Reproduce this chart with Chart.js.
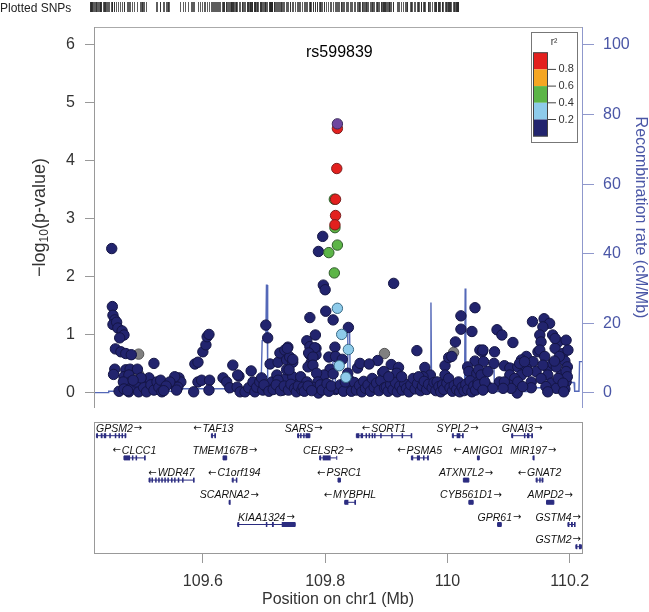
<!DOCTYPE html>
<html>
<head>
<meta charset="utf-8">
<script src="https://cdn.jsdelivr.net/npm/chart.js@4.4.1/dist/chart.umd.min.js"></script>
<style>
  html, body { margin: 0; padding: 0; background: #fff; }
  canvas { display: block; }
</style>
</head>
<body>
<canvas id="locusChart" width="649" height="612"></canvas>
<script>
// Regional association plot (LocusZoom style) with Chart.js

const indexSnp = 'rs599839';

// [position (Mb), -log10(p)] per r2 class
const snpIndex = [[109.820, 4.64]];
const snpRed = [[109.820, 4.56], [109.819, 3.87], [109.817, 3.34], [109.817, 3.06], [109.816, 2.90]];
const snpGreen = [[109.815, 3.34], [109.816, 2.85], [109.820, 2.55], [109.806, 2.42], [109.815, 2.07]];
const snpLightBlue = [[109.820, 1.46], [109.827, 1.01], [109.838, 0.75], [109.823, 0.47], [109.834, 0.27]];
const snpGray = [[109.495, 0.67], [109.495, 0.32], [109.897, 0.68], [110.010, 0.70]];
const snpNavy = [
  [109.451, 2.49], [109.452, 1.49], [109.453, 1.34], [109.456, 1.26], [109.453, 1.18], [109.459, 1.22],
  [109.461, 1.12], [109.468, 1.07], [109.471, 1.00], [109.464, 0.95], [109.457, 0.76], [109.466, 0.71],
  [109.474, 0.68], [109.483, 0.66], [109.520, 0.51], [109.456, 0.41], [109.454, 0.32], [109.474, 0.40],
  [109.481, 0.41], [109.493, 0.41], [109.471, 0.28], [109.479, 0.31], [109.482, 0.19], [109.470, 0.19],
  [109.463, 0.03], [109.471, 0.07], [109.479, 0.02], [109.487, 0.10], [109.495, 0.02], [109.500, 0.19],
  [109.503, 0.10], [109.508, 0.02], [109.512, 0.26], [109.515, 0.14], [109.520, 0.05], [109.525, 0.19],
  [109.528, 0.10], [109.533, 0.02], [109.531, 0.22], [109.490, 0.19], [109.499, 0.26], [109.486, 0.22],
  [109.556, 0.19], [109.561, 0.26], [109.564, 0.19], [109.553, 0.14], [109.554, 0.28], [109.559, 0.10],
  [109.557, 0.05], [109.546, 0.19], [109.540, 0.12], [109.536, 0.04], [109.477, 0.04],
  [109.587, 0.50], [109.592, 0.53], [109.592, 0.19], [109.598, 0.22], [109.585, 0.02], [109.600, 0.71],
  [109.605, 0.83], [109.607, 0.97], [109.610, 1.01], [109.611, 0.22], [109.610, 0.05], [109.633, 0.26],
  [109.639, 0.19], [109.644, 0.09], [109.649, 0.48], [109.656, 0.10], [109.659, 0.29], [109.661, 0.02],
  [109.669, 0.02], [109.675, 0.09], [109.679, 0.38], [109.682, 0.19], [109.685, 0.02], [109.688, 0.10],
  [109.693, 0.19], [109.696, 0.26], [109.698, 0.05], [109.703, 1.17], [109.706, 0.95], [109.705, 0.09],
  [109.710, 0.50], [109.713, 0.19], [109.718, 0.10], [109.721, 0.31], [109.723, 0.53], [109.726, 0.69],
  [109.729, 0.19], [109.731, 0.05], [109.734, 0.74], [109.737, 0.57], [109.737, 0.26], [109.657, 0.31],
  [109.739, 0.79], [109.742, 0.62], [109.747, 0.53], [109.737, 0.40], [109.723, 0.22], [109.747, 0.28],
  [109.759, 0.19], [109.700, 0.14], [109.708, 0.03], [109.715, 0.06], [109.720, 0.14], [109.727, 0.04],
  [109.733, 0.12], [109.740, 0.05], [109.744, 0.15], [109.750, 0.08], [109.753, 0.02], [109.756, 0.12],
  [109.762, 0.05],
  [109.796, 2.70], [109.789, 2.44], [109.797, 1.86], [109.800, 1.78], [109.801, 1.41], [109.775, 1.30],
  [109.813, 1.26], [109.838, 1.13], [109.784, 1.00], [109.770, 0.90], [109.775, 0.80], [109.785, 0.77],
  [109.738, 0.77], [109.816, 0.79], [109.775, 0.66], [109.785, 0.66], [109.806, 0.62], [109.817, 0.63],
  [109.828, 0.58], [109.747, 0.58], [109.777, 0.52], [109.808, 0.41], [109.853, 0.43], [109.857, 0.51],
  [109.886, 0.56], [109.798, 0.31], [109.760, 0.28], [109.741, 0.40], [109.817, 0.06], [109.789, 0.00],
  [109.783, 0.78], [109.773, 0.69], [109.780, 0.62], [109.772, 0.45], [109.780, 0.48], [109.786, 0.34],
  [109.770, 0.19], [109.788, 0.19], [109.764, 0.10], [109.780, 0.10], [109.813, 0.33], [109.819, 0.08],
  [109.837, 0.34], [109.840, 0.22], [109.845, 0.11], [109.872, 0.50], [109.894, 0.35],
  [109.766, 0.03], [109.772, 0.12], [109.778, 0.04], [109.792, 0.14], [109.795, 0.05], [109.803, 0.16],
  [109.806, 0.03], [109.810, 0.12], [109.825, 0.14], [109.830, 0.03], [109.833, 0.19], [109.843, 0.03],
  [109.848, 0.18], [109.851, 0.05], [109.856, 0.13], [109.860, 0.02], [109.863, 0.20], [109.866, 0.08],
  [109.870, 0.14], [109.874, 0.03], [109.877, 0.25], [109.880, 0.10], [109.884, 0.17], [109.888, 0.04],
  [109.891, 0.21], [109.897, 0.09],
  [109.912, 1.89], [109.950, 0.73], [109.908, 0.49], [109.920, 0.44], [109.917, 0.34], [109.896, 0.37],
  [109.963, 0.44], [109.972, 0.31], [109.996, 0.47], [110.002, 0.61], [110.007, 0.63], [110.013, 0.88],
  [110.022, 1.33], [110.022, 1.10], [110.040, 1.06], [110.045, 1.47], [110.045, 0.55], [110.033, 0.45],
  [110.035, 0.37], [110.053, 0.74], [109.996, 0.31], [110.057, 0.71], [110.059, 0.54], [110.048, 0.34],
  [109.960, 0.28],
  [109.900, 0.10], [109.903, 0.03], [109.907, 0.15], [109.911, 0.06], [109.915, 0.18], [109.918, 0.02],
  [109.922, 0.12], [109.926, 0.05], [109.930, 0.16], [109.933, 0.08], [109.937, 0.02], [109.940, 0.14],
  [109.944, 0.25], [109.947, 0.07], [109.951, 0.16], [109.953, 0.28], [109.956, 0.04], [109.959, 0.12],
  [109.962, 0.20], [109.966, 0.06], [109.969, 0.15], [109.975, 0.09], [109.978, 0.18], [109.981, 0.04],
  [109.983, 0.19], [109.986, 0.11], [109.989, 0.02], [109.992, 0.14], [109.994, 0.06], [109.999, 0.17],
  [110.002, 0.25], [110.004, 0.09], [110.008, 0.03], [110.011, 0.13], [110.015, 0.06], [110.018, 0.19],
  [110.020, 0.02], [110.024, 0.10], [110.027, 0.04], [110.030, 0.15], [110.033, 0.06], [110.037, 0.21],
  [110.040, 0.02], [110.043, 0.12], [110.046, 0.05], [110.050, 0.18], [110.051, 0.40], [109.904, 0.28],
  [109.925, 0.28],
  [110.139, 1.23], [110.158, 1.28], [110.167, 1.20], [110.156, 1.14], [110.151, 1.00], [110.172, 1.00],
  [110.081, 1.09], [110.089, 1.00], [110.107, 0.87], [110.181, 0.88], [110.194, 0.91], [110.058, 0.74],
  [110.077, 0.71], [110.176, 0.77], [110.148, 0.71], [110.129, 0.63], [110.121, 0.57], [110.140, 0.54],
  [110.189, 0.68], [110.197, 0.74], [110.192, 0.55], [110.076, 0.51], [110.093, 0.47], [110.102, 0.43],
  [110.115, 0.45], [110.129, 0.43], [110.164, 0.43], [110.172, 0.51], [110.196, 0.45], [110.102, 0.31],
  [110.121, 0.31], [110.145, 0.37], [110.164, 0.31], [110.186, 0.31], [110.055, 0.31], [110.066, 0.37],
  [110.085, 0.19], [110.110, 0.25], [110.137, 0.19], [110.153, 0.25], [110.170, 0.17], [110.194, 0.19],
  [110.050, 0.14], [110.066, 0.11], [110.100, 0.14], [110.114, 0.00], [110.137, 0.09], [110.161, 0.11],
  [110.178, 0.08], [110.192, 0.07], [110.164, 0.02],
  [110.183, 0.63], [110.178, 0.45], [110.194, 0.37], [110.196, 0.28], [110.181, 0.25], [110.189, 0.17],
  [110.190, 0.02], [110.176, 0.94], [110.175, 0.55], [110.153, 0.88], [110.151, 0.74], [110.159, 0.63],
  [110.156, 0.48], [110.118, 0.51], [110.126, 0.54], [110.131, 0.37], [110.115, 0.19], [110.123, 0.11],
  [110.104, 0.08], [110.093, 0.19], [110.091, 0.08], [110.074, 0.08], [110.061, 0.19], [110.058, 0.05]
];

// recombination rate (cM/Mb)
const recombPos = [109.422, 109.445, 109.446, 109.555, 109.556, 109.640, 109.641, 109.695, 109.697, 109.703,
  109.704, 109.705, 109.706, 109.708, 109.800, 109.812, 109.813, 109.816, 109.817, 109.836, 109.837, 109.840,
  109.841, 109.850, 109.851, 109.972, 109.973, 109.974, 110.028, 110.029, 110.030, 110.045, 110.046, 110.066,
  110.067, 110.076, 110.077, 110.135, 110.136, 110.160, 110.161, 110.195, 110.196, 110.207, 110.208, 110.215,
  110.216, 110.220];
const recombRate = [0.1, 0.1, 0.5, 0.5, 1.2, 1.2, 0.7, 0.7, 15, 15.5,
  31, 31, 4.5, 1.0, 1.0, 0.6, 12, 12, 1.0, 1.0, 18, 18,
  3, 3, 0.8, 0.8, 26, 0.8, 0.6, 30, 3, 3, 0.8, 0.8,
  7.5, 7.5, 0.4, 0.4, 1.5, 1.5, 0.4, 0.4, 3, 3, 0.5, 0.5,
  9, 9];

const xTicks = [109.6, 109.8, 110.0, 110.2];
const yTicks = [0, 1, 2, 3, 4, 5, 6];
const y2Ticks = [0, 20, 40, 60, 80, 100];

// r2 legend
const r2Labels = ['0.8', '0.6', '0.4', '0.2'];
const r2Colors = ['#e3201e', '#f5a623', '#5cb547', '#8ecbea', '#22246e'];

// genes
const geneNames = ['GPSM2', 'TAF13', 'SARS', 'SORT1', 'SYPL2', 'GNAI3',
  'CLCC1', 'TMEM167B', 'CELSR2', 'PSMA5', 'AMIGO1', 'MIR197',
  'WDR47', 'C1orf194', 'PSRC1', 'ATXN7L2', 'GNAT2',
  'SCARNA2', 'MYBPHL', 'CYB561D1', 'AMPD2',
  'KIAA1324', 'GPR61', 'GSTM4', 'GSTM2'];
const geneStart = [109.426, 109.614, 109.755, 109.851, 110.008, 110.105,
  109.471, 109.633, 109.791, 109.941, 110.049, 110.140,
  109.512, 109.648, 109.821, 110.026, 110.145,
  109.643, 109.832, 110.035, 110.162,
  109.657, 110.082, 110.197, 110.210];
const geneEnd = [109.474, 109.620, 109.775, 109.941, 110.025, 110.139,
  109.505, 109.639, 109.819, 109.968, 110.052, 110.1405,
  109.585, 109.655, 109.825, 110.035, 110.156,
  109.6435, 109.849, 110.042, 110.174,
  109.751, 110.088, 110.208, 110.219];
const geneStrand = [1, -1, 1, -1, 1, 1,
  -1, 1, 1, -1, -1, 1,
  -1, -1, -1, 1, -1,
  1, -1, 1, 1,
  1, 1, 1, 1];
const geneRow = [0, 0, 0, 0, 0, 0,
  1, 1, 1, 1, 1, 1,
  2, 2, 2, 2, 2,
  3, 3, 3, 3,
  4, 4, 4, 5];
const geneExons = [
  [[109.426, 109.428], [109.433, 109.436], [109.438, 109.442], [109.447, 109.449], [109.456, 109.458], [109.462, 109.464], [109.467, 109.469], [109.472, 109.474]],
  [[109.614, 109.615], [109.619, 109.620]],
  [[109.755, 109.757], [109.759, 109.761], [109.764, 109.766], [109.768, 109.775]],
  [[109.851, 109.856], [109.858, 109.862], [109.866, 109.867], [109.871, 109.873], [109.876, 109.877], [109.880, 109.881], [109.890, 109.891], [109.908, 109.909], [109.925, 109.926], [109.940, 109.941]],
  [[110.008, 110.009], [110.015, 110.021], [110.024, 110.025]],
  [[110.105, 110.106], [110.125, 110.127], [110.130, 110.134], [110.137, 110.139]],
  [[109.471, 109.481], [109.484, 109.486], [109.490, 109.491], [109.504, 109.505]],
  [[109.633, 109.639]],
  [[109.791, 109.793], [109.796, 109.809]],
  [[109.941, 109.944], [109.950, 109.955], [109.960, 109.961], [109.967, 109.968]],
  [[110.049, 110.052]],
  [[110.140, 110.1405]],
  [[109.512, 109.513], [109.516, 109.517], [109.522, 109.524], [109.527, 109.528], [109.532, 109.533], [109.537, 109.538], [109.542, 109.544], [109.548, 109.549], [109.553, 109.555], [109.559, 109.560], [109.566, 109.567], [109.584, 109.585]],
  [[109.648, 109.649], [109.654, 109.655]],
  [[109.821, 109.825]],
  [[110.026, 110.035]],
  [[110.145, 110.147], [110.150, 110.152], [110.154, 110.156]],
  [[109.643, 109.6435]],
  [[109.832, 109.838], [109.848, 109.849]],
  [[110.035, 110.042]],
  [[110.162, 110.174]],
  [[109.657, 109.658], [109.703, 109.705], [109.713, 109.716], [109.729, 109.751]],
  [[110.082, 110.083], [110.084, 110.088]],
  [[110.197, 110.199], [110.202, 110.205], [110.207, 110.208]],
  [[110.210, 110.212], [110.215, 110.219]]
];

const FONT = "'Liberation Sans', Arial, Helvetica, sans-serif";
const toXY = arr => arr.map(p => ({ x: p[0], y: p[1] }));

function snpSet(label, arr, color, order, edge) {
  return {
    label: label, data: toXY(arr), yAxisID: 'y', order: order,
    backgroundColor: color, borderColor: edge, borderWidth: 1,
    pointRadius: 5.2, pointHoverRadius: 5.2
  };
}

const decorPlugin = {
  id: 'decor',
  afterDraw(chart) {
    const ctx = chart.ctx;
    const { left, right, top } = chart.chartArea;
    const xs = chart.scales.x;
    const mainBottom = 408, geneTop = 422, geneBottom = 553;
    ctx.save();

    // plotted SNPs strip
    ctx.fillStyle = '#222';
    ctx.font = '12px ' + FONT;
    ctx.textBaseline = 'alphabetic';
    ctx.textAlign = 'left';
    ctx.fillText('Plotted SNPs', 0, 12);
    const allPos = [].concat(snpNavy, snpGray, snpLightBlue, snpGreen, snpRed, snpIndex).map(p => p[0]);
    const pMin = Math.min(...allPos), pMax = Math.max(...allPos);
    ctx.strokeStyle = 'rgba(40,40,40,0.75)';
    ctx.lineWidth = 1;
    allPos.forEach(p => {
      const sx = Math.round(90 + (p - pMin) / (pMax - pMin) * 368) + 0.5;
      ctx.beginPath(); ctx.moveTo(sx, 2); ctx.lineTo(sx, 12); ctx.stroke();
    });

    // main panel frame
    ctx.strokeStyle = '#aaa';
    ctx.beginPath(); ctx.moveTo(left, top + 0.5); ctx.lineTo(right, top + 0.5); ctx.stroke();
    ctx.strokeStyle = '#999';
    ctx.beginPath(); ctx.moveTo(left + 0.5, top); ctx.lineTo(left + 0.5, mainBottom); ctx.stroke();
    ctx.strokeStyle = '#8f98cc';
    ctx.beginPath(); ctx.moveTo(right + 0.5, top); ctx.lineTo(right + 0.5, mainBottom); ctx.stroke();

    // index SNP name
    ctx.fillStyle = '#000';
    ctx.font = '16px ' + FONT;
    ctx.textAlign = 'center';
    ctx.textBaseline = 'middle';
    ctx.fillText(indexSnp, xs.getPixelForValue(snpIndex[0][0]) + 2, 53);

    // r2 legend
    ctx.strokeStyle = '#777';
    ctx.strokeRect(531.5, 32.5, 46, 110);
    ctx.fillStyle = '#333';
    ctx.font = '10px ' + FONT;
    ctx.fillText('r\u00b2', 554, 42);
    const bh = 16.7;
    r2Colors.forEach((c, i) => {
      ctx.fillStyle = c;
      ctx.fillRect(533.5, 52.7 + i * bh, 14, bh);
    });
    ctx.strokeStyle = '#444';
    ctx.strokeRect(533.5, 52.7, 14, bh * r2Colors.length);
    ctx.font = '11px ' + FONT;
    ctx.textAlign = 'left';
    r2Labels.forEach((t, i) => {
      const yy = 52.7 + (i + 1) * bh;
      ctx.beginPath(); ctx.moveTo(547.5, yy); ctx.lineTo(556, yy); ctx.stroke();
      ctx.fillStyle = '#333';
      ctx.fillText(t, 558.5, yy);
    });

    // axis titles
    ctx.fillStyle = '#333';
    ctx.save();
    ctx.translate(40, 217.5);
    ctx.rotate(-Math.PI / 2);
    const big = '18px ' + FONT, small = '12px ' + FONT;
    ctx.font = big; const w1 = ctx.measureText('\u2212log').width;
    ctx.font = small; const w2 = ctx.measureText('10').width;
    ctx.font = big; const w3 = ctx.measureText('(p-value)').width;
    const sx0 = -(w1 + w2 + w3) / 2;
    ctx.textAlign = 'left';
    ctx.textBaseline = 'middle';
    ctx.font = big; ctx.fillText('\u2212log', sx0, 0);
    ctx.font = small; ctx.fillText('10', sx0 + w1, 5);
    ctx.font = big; ctx.fillText('(p-value)', sx0 + w1 + w2, 0);
    ctx.restore();

    ctx.save();
    ctx.translate(640, 217.5);
    ctx.rotate(Math.PI / 2);
    ctx.fillStyle = '#4a56a6';
    ctx.font = '16px ' + FONT;
    ctx.textAlign = 'center';
    ctx.textBaseline = 'middle';
    ctx.fillText('Recombination rate (cM/Mb)', 0, 0);
    ctx.restore();

    // gene panel
    ctx.strokeStyle = '#999';
    ctx.strokeRect(left + 0.5, geneTop + 0.5, right - left, geneBottom - geneTop);
    ctx.save();
    ctx.beginPath();
    ctx.rect(left + 1, geneTop + 1, right - left - 1, geneBottom - geneTop - 1);
    ctx.clip();
    const nameFont = 'italic 10.5px ' + FONT;
    const arrowFont = '10px "DejaVu Sans", sans-serif';
    geneNames.forEach((name, i) => {
      const x1 = xs.getPixelForValue(geneStart[i]);
      const x2 = xs.getPixelForValue(geneEnd[i]);
      const gy = 435.7 + geneRow[i] * 22.2;
      ctx.strokeStyle = '#2b2c80';
      ctx.fillStyle = '#2b2c80';
      ctx.lineWidth = 1;
      ctx.beginPath(); ctx.moveTo(x1, gy); ctx.lineTo(Math.max(x2, x1 + 1), gy); ctx.stroke();
      ctx.beginPath();
      ctx.moveTo(x1, gy - 2); ctx.lineTo(x1, gy + 2);
      ctx.moveTo(x2, gy - 2); ctx.lineTo(x2, gy + 2);
      ctx.stroke();
      geneExons[i].forEach(e => {
        const e1 = xs.getPixelForValue(e[0]);
        const e2 = xs.getPixelForValue(e[1]);
        ctx.fillRect(e1, gy - 2.5, Math.max(1.5, e2 - e1), 5);
      });
      // label with strand arrow
      const arrow = geneStrand[i] > 0 ? '\u2192' : '\u2190';
      ctx.font = nameFont; const nw = ctx.measureText(name).width;
      ctx.font = arrowFont; const aw = ctx.measureText(arrow).width;
      const lw = nw + aw + 1;
      let lx = (x1 + x2) / 2 - lw / 2;
      if (lx < left + 2) lx = left + 2;
      if (lx + lw > right - 1) lx = right - 1 - lw;
      ctx.fillStyle = '#111';
      ctx.textAlign = 'left';
      ctx.textBaseline = 'alphabetic';
      const ty = gy - 4;
      if (geneStrand[i] > 0) {
        ctx.font = nameFont; ctx.fillText(name, lx, ty);
        ctx.font = arrowFont; ctx.fillText(arrow, lx + nw + 1, ty - 0.5);
      } else {
        ctx.font = arrowFont; ctx.fillText(arrow, lx, ty - 0.5);
        ctx.font = nameFont; ctx.fillText(name, lx + aw + 1, ty);
      }
    });
    ctx.restore();

    ctx.restore();
  }
};

new Chart(document.getElementById('locusChart'), {
  type: 'scatter',
  data: {
    datasets: [
      snpSet('index', snpIndex, '#6e46a0', 1, '#3a2a5a'),
      snpSet('r2 0.8-1', snpRed, r2Colors[0], 2, '#7a2020'),
      snpSet('r2 0.4-0.6', snpGreen, r2Colors[2], 3, '#2f5a2a'),
      snpSet('r2 0.2-0.4', snpLightBlue, r2Colors[3], 4, '#3a6a85'),
      snpSet('r2 0-0.2', snpNavy, r2Colors[4], 5, '#141545'),
      snpSet('no r2', snpGray, '#808080', 6, '#555'),
      {
        type: 'line', label: 'recombination', yAxisID: 'y2', order: 20,
        data: recombPos.map((p, i) => ({ x: p, y: recombRate[i] })),
        borderColor: '#5468b8', borderWidth: 1.4, pointRadius: 0, tension: 0, fill: false
      }
    ]
  },
  options: {
    responsive: false,
    animation: false,
    devicePixelRatio: 1,
    layout: { padding: { top: 27, left: 0, right: 0, bottom: 0 } },
    plugins: { legend: { display: false }, tooltip: { enabled: false } },
    scales: {
      x: {
        type: 'linear', position: 'bottom', min: 109.422, max: 110.22,
        afterBuildTicks: s => { s.ticks = xTicks.map(v => ({ value: v })); },
        afterFit: s => { s.height = 59; },
        grid: { drawOnChartArea: false, drawTicks: true, tickLength: 10, color: '#999' },
        border: { display: true, color: '#999' },
        ticks: { color: '#333', padding: 9, font: { family: FONT, size: 16 }, callback: v => String(+v.toFixed(1)) },
        title: { display: true, text: 'Position on chr1 (Mb)', color: '#333', font: { family: FONT, size: 16 }, padding: { top: 0, bottom: 3 } }
      },
      y: {
        type: 'linear', position: 'left', min: -2.759, max: 6.31,
        afterBuildTicks: s => { s.ticks = yTicks.map(v => ({ value: v })); },
        afterFit: s => { s.width = 94; },
        grid: { drawOnChartArea: false, drawTicks: true, tickLength: 9, color: '#999' },
        border: { display: false },
        ticks: { color: '#333', padding: 10, font: { family: FONT, size: 16 } }
      },
      y2: {
        type: 'linear', position: 'right', min: -45.98, max: 105.17,
        afterBuildTicks: s => { s.ticks = y2Ticks.map(v => ({ value: v })); },
        afterFit: s => { s.width = 67; },
        grid: { drawOnChartArea: false, drawTicks: true, tickLength: 12, color: '#8f98cc' },
        border: { display: false },
        ticks: { color: '#4a56a6', padding: 9, font: { family: FONT, size: 16 } }
      }
    }
  },
  plugins: [decorPlugin]
});
</script>
</body>
</html>
